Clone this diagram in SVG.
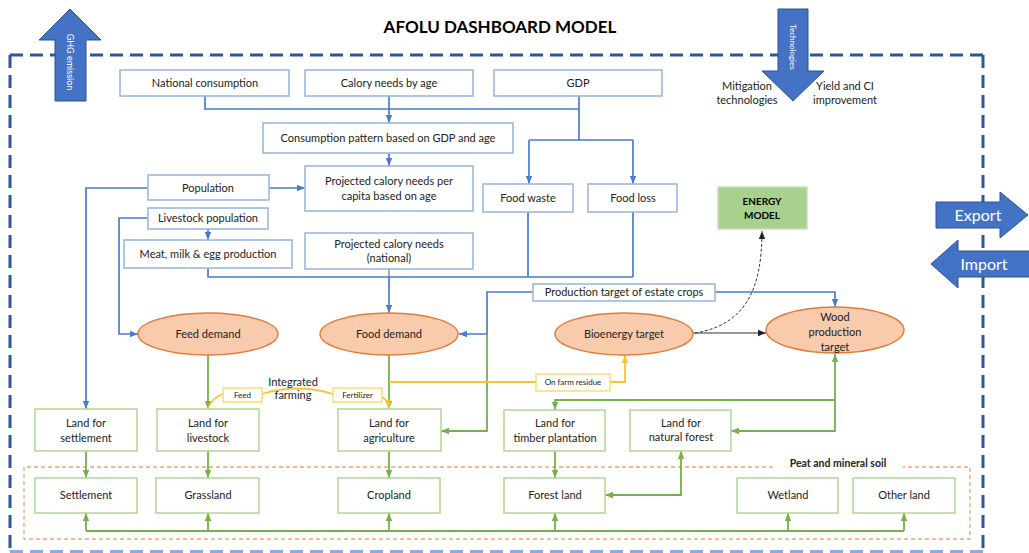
<svg xmlns="http://www.w3.org/2000/svg" width="1029" height="553" viewBox="0 0 1029 553">
<defs>
<style>
text{font-family:Lato,"Liberation Sans",Arial,sans-serif;font-size:11px;fill:#222;text-anchor:middle}
.bx{fill:#fff;stroke:#9DB8E4;stroke-width:1.6}
.gx{fill:#fff;stroke:#B4D99A;stroke-width:1.6}
.el{fill:#F8CBAD;stroke:#E07B39;stroke-width:1.4}
.yb{fill:#fff;stroke:#FFD966;stroke-width:1.4}
.bl{fill:none;stroke:#4A7BD0;stroke-width:1.7}
.gl{fill:none;stroke:#74B04C;stroke-width:1.8}
.yl{fill:none;stroke:#F7C234;stroke-width:1.8}
.ba{fill:#4472C4;stroke:#2F528F;stroke-width:1}
.wt{fill:#fff}
.sm{font-size:8px}
</style>
<marker id="mb" viewBox="0 0 10 10" refX="10" refY="5" markerWidth="8" markerHeight="8" orient="auto" markerUnits="userSpaceOnUse"><path d="M0,1 L10,5 L0,9 z" fill="#4A7BD0"/></marker>
<marker id="mg" viewBox="0 0 10 10" refX="10" refY="5" markerWidth="8" markerHeight="8" orient="auto" markerUnits="userSpaceOnUse"><path d="M0,1 L10,5 L0,9 z" fill="#74B04C"/></marker>
<marker id="mgs" viewBox="0 0 10 10" refX="0" refY="5" markerWidth="8" markerHeight="8" orient="auto" markerUnits="userSpaceOnUse"><path d="M10,1 L0,5 L10,9 z" fill="#74B04C"/></marker>
<marker id="my" viewBox="0 0 10 10" refX="10" refY="5" markerWidth="8" markerHeight="8" orient="auto" markerUnits="userSpaceOnUse"><path d="M0,1 L10,5 L0,9 z" fill="#F7C234"/></marker>
<marker id="mk" viewBox="0 0 10 10" refX="10" refY="5" markerWidth="8" markerHeight="8" orient="auto" markerUnits="userSpaceOnUse"><path d="M0,1 L10,5 L0,9 z" fill="#222"/></marker>
</defs>
<rect width="1029" height="553" fill="#fff"/>

<!-- outer boundary -->
<g id="boundary" fill="none" stroke-width="3" stroke-dasharray="13,7">
<path d="M10,55 H983 M10,55 V553 M983,55 V553" stroke="#2F5597"/>
<path d="M10,551.5 H983" stroke="#8FAADC"/>
</g>

<text x="500" y="33" style="font-size:17px;font-weight:bold;fill:#000">AFOLU DASHBOARD MODEL</text>

<!-- side arrows -->
<g id="ghg">
<path class="ba" d="M55,101 V40 H39 L70,9 L101,40 H86 V101 z"/>
<text class="wt" transform="translate(70,62) rotate(90)" dy="3.5" style="font-size:9px">GHG emission</text>
</g>
<g id="technologies">
<path class="ba" d="M778,9 H808 V71 H824 L793,101 L762,71 H778 z"/>
<text class="wt" transform="translate(793,47) rotate(90)" dy="3" style="font-size:8px">Technologies</text>
</g>
<g id="export">
<path class="ba" d="M936,202 H1000 V192 L1028,215 L1000,238 V228 H936 z"/>
<text class="wt" x="978" y="221" style="font-size:16px">Export</text>
</g>
<g id="import">
<path class="ba" d="M1030,251 H958 V240 L931,264 L958,288 V277 H1030 z"/>
<text class="wt" x="984" y="270" style="font-size:16px">Import</text>
</g>
<g id="mitigation"><text x="747" y="90">Mitigation</text><text x="747" y="104">technologies</text></g>
<g id="yield"><text x="845" y="90">Yield and CI</text><text x="845" y="104">improvement</text></g>

<!-- peat region -->
<g id="peat">
<path d="M773,467 H24 V539 H970 V467 H903" fill="none" stroke="#F4A46A" stroke-width="1.3" stroke-dasharray="4,3"/>
<text x="838" y="467" style="font-size:10.5px;font-weight:bold">Peat and mineral soil</text>
</g>

<!-- connectors -->
<g id="connectors">
<path class="bl" d="M205,96 V109 H579 M579,96 V140 M529,140 H633"/>
<path class="bl" d="M529,140 V184" marker-end="url(#mb)"/>
<path class="bl" d="M633,140 V184" marker-end="url(#mb)"/>
<path class="bl" d="M389,96 V123" marker-end="url(#mb)"/>
<path class="bl" d="M389,153 V166" marker-end="url(#mb)"/>
<path class="bl" d="M269,188 H305" marker-end="url(#mb)"/>
<path class="bl" d="M148,188 H86 V409" marker-end="url(#mb)"/>
<path class="bl" d="M148,218 H119 V334 H138" marker-end="url(#mb)"/>
<path class="bl" d="M208,229 V240" marker-end="url(#mb)"/>
<path class="bl" d="M208,268 V277 H633 M528,212 V277 M633,212 V277"/>
<path d="M389,269 V277" stroke="#555" stroke-width="1"/>
<path class="bl" d="M389,277 V313" marker-end="url(#mb)"/>
<path class="bl" d="M533,292 H487 V334 H459" marker-end="url(#mb)"/>
<path class="bl" d="M715,292 H835 V307" marker-end="url(#mb)"/>
<path class="gl" d="M487,334 V431 H441" marker-end="url(#mg)"/>
<path class="gl" d="M208,355 V409" marker-end="url(#mg)"/>
<path class="gl" d="M389,355 V409" marker-end="url(#mg)"/>
<path class="gl" d="M835,400 V354" marker-end="url(#mg)"/>
<path class="gl" d="M835,400 H555 V410" marker-end="url(#mg)"/>
<path class="gl" d="M835,400 V431 H731" marker-end="url(#mg)"/>
<path class="gl" d="M86,451 V478" marker-end="url(#mg)"/>
<path class="gl" d="M208,451 V478" marker-end="url(#mg)"/>
<path class="gl" d="M389,451 V478" marker-end="url(#mg)"/>
<path class="gl" d="M555,451 V478" marker-end="url(#mg)"/>
<path class="gl" d="M605,495 H681 V451" marker-start="url(#mgs)" marker-end="url(#mg)"/>
<path class="gl" d="M86,531 H904"/>
<path class="gl" d="M86,531 V513" marker-end="url(#mg)"/>
<path class="gl" d="M208,531 V513" marker-end="url(#mg)"/>
<path class="gl" d="M389,531 V513" marker-end="url(#mg)"/>
<path class="gl" d="M555,531 V513" marker-end="url(#mg)"/>
<path class="gl" d="M788,531 V513" marker-end="url(#mg)"/>
<path class="gl" d="M904,531 V513" marker-end="url(#mg)"/>
<path class="yl" d="M389,382 H536 M610,382 H625 V355" marker-end="url(#my)"/>
<path class="yl" d="M208,408 Q212,398 223,394 M262,394 Q297,383 333,394"/>
<path class="yl" d="M382,397 Q388,400 389,408" marker-end="url(#my)"/>
<path d="M693,333 H766" fill="none" stroke="#333" stroke-width="1.2" marker-end="url(#mk)"/>
<path d="M695,333 C745,325 762,290 762,231" fill="none" stroke="#333" stroke-width="1" stroke-dasharray="3,2" marker-end="url(#mk)"/>
<g id="production-target"><rect class="bx" x="533" y="284" width="182" height="17"/><text x="624" y="296">Production target of estate crops</text></g>
<g id="on-farm-residue"><rect class="yb" x="536" y="374" width="74" height="17"/><text class="sm" x="573" y="385">On farm residue</text></g>
<g id="feed-label"><rect class="yb" x="223" y="388" width="39" height="14"/><text class="sm" x="242.5" y="398">Feed</text></g>
<g id="fertilizer-label"><rect class="yb" x="333" y="388" width="49" height="14"/><text class="sm" x="357.5" y="398">Fertilizer</text></g>
<g id="integrated-farming"><text x="293" y="386">Integrated</text><text x="293" y="399">farming</text></g>
</g>

<!-- nodes -->
<g id="national-consumption"><rect class="bx" x="120" y="70" width="169" height="26"/><text x="205" y="87">National consumption</text></g>
<g id="calory-needs-by-age"><rect class="bx" x="305" y="70" width="168" height="26"/><text x="389" y="87">Calory needs by age</text></g>
<g id="gdp"><rect class="bx" x="494" y="70" width="168" height="26"/><text x="578" y="87">GDP</text></g>
<g id="consumption-pattern"><rect class="bx" x="263" y="123" width="250" height="30"/><text x="388" y="142">Consumption pattern based on GDP and age</text></g>
<g id="projected-per-capita"><rect class="bx" x="305" y="166" width="168" height="45"/><text x="389" y="185">Projected calory needs per</text><text x="389" y="200">capita based on age</text></g>
<g id="population"><rect class="bx" x="148" y="175" width="121" height="25"/><text x="208" y="192">Population</text></g>
<g id="livestock-population"><rect class="bx" x="148" y="208" width="120" height="21"/><text x="208" y="222">Livestock population</text></g>
<g id="meat-milk-egg"><rect class="bx" x="124" y="240" width="168" height="28"/><text x="208" y="258">Meat, milk &amp; egg production</text></g>
<g id="projected-national"><rect class="bx" x="305" y="233" width="168" height="36"/><text x="389" y="248">Projected calory needs</text><text x="389" y="262">(national)</text></g>
<g id="food-waste"><rect class="bx" x="483" y="184" width="90" height="28"/><text x="528" y="202">Food waste</text></g>
<g id="food-loss"><rect class="bx" x="588" y="184" width="89" height="28"/><text x="633" y="202">Food loss</text></g>
<g id="energy-model"><rect x="718" y="187" width="89" height="42" fill="#A9D18E" stroke="#C5E0B4" stroke-width="1.4"/><text x="762" y="205" style="font-size:10px;font-weight:bold;fill:#000">ENERGY</text><text x="762" y="219" style="font-size:10px;font-weight:bold;fill:#000">MODEL</text></g>
<g id="feed-demand"><ellipse class="el" cx="208" cy="334" rx="70" ry="21"/><text x="208" y="338">Feed demand</text></g>
<g id="food-demand"><ellipse class="el" cx="389" cy="334" rx="69" ry="21"/><text x="389" y="338">Food demand</text></g>
<g id="bioenergy-target"><ellipse class="el" cx="624" cy="334" rx="69" ry="21"/><text x="624" y="338">Bioenergy target</text></g>
<g id="wood-production-target"><ellipse class="el" cx="835" cy="330" rx="69" ry="23"/><text x="835" y="321">Wood</text><text x="835" y="336">production</text><text x="835" y="351">target</text></g>
<g id="land-settlement"><rect class="gx" x="35" y="409" width="102" height="42"/><text x="86" y="427">Land for</text><text x="86" y="442">settlement</text></g>
<g id="land-livestock"><rect class="gx" x="157" y="409" width="102" height="42"/><text x="208" y="427">Land for</text><text x="208" y="442">livestock</text></g>
<g id="land-agriculture"><rect class="gx" x="338" y="409" width="103" height="42"/><text x="389" y="427">Land for</text><text x="389" y="442">agriculture</text></g>
<g id="land-timber"><rect class="gx" x="504" y="410" width="101" height="41"/><text x="555" y="427">Land for</text><text x="555" y="442">timber plantation</text></g>
<g id="land-natural-forest"><rect class="gx" x="630" y="410" width="101" height="41"/><text x="681" y="427">Land for</text><text x="681" y="441">natural forest</text></g>
<g id="settlement"><rect class="gx" x="35" y="478" width="102" height="35"/><text x="86" y="499">Settlement</text></g>
<g id="grassland"><rect class="gx" x="156" y="478" width="103" height="35"/><text x="208" y="499">Grassland</text></g>
<g id="cropland"><rect class="gx" x="338" y="478" width="102" height="35"/><text x="389" y="499">Cropland</text></g>
<g id="forest-land"><rect class="gx" x="504" y="478" width="101" height="35"/><text x="555" y="499">Forest land</text></g>
<g id="wetland"><rect class="gx" x="737" y="478" width="101" height="35"/><text x="788" y="499">Wetland</text></g>
<g id="other-land"><rect class="gx" x="853" y="478" width="102" height="35"/><text x="904" y="499">Other land</text></g>
</svg>
